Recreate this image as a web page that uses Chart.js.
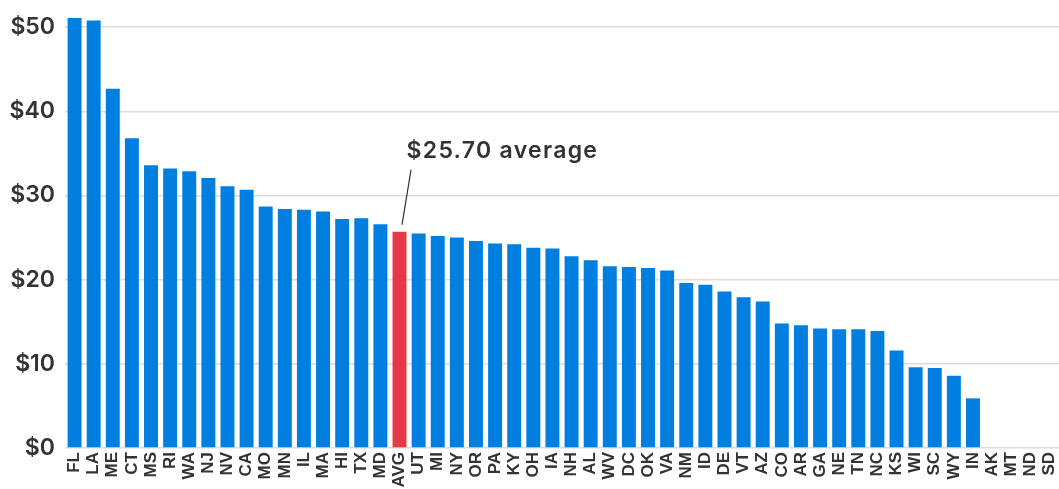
<!DOCTYPE html>
<html>
<head>
<meta charset="utf-8">
<script src="https://cdn.jsdelivr.net/npm/chart.js@4/dist/chart.umd.min.js"></script>
<style>
  html, body { margin: 0; padding: 0; background: #ffffff; }
  #wrap { width: 1059px; height: 489px; position: relative; }
</style>
</head>
<body>
<div id="wrap"><canvas id="c"></canvas></div>
<script>
const states = ["FL","LA","ME","CT","MS","RI","WA","NJ","NV","CA","MO","MN","IL","MA","HI","TX","MD","AVG","UT","MI","NY","OR","PA","KY","OH","IA","NH","AL","WV","DC","OK","VA","NM","ID","DE","VT","AZ","CO","AR","GA","NE","TN","NC","KS","WI","SC","WY","IN","AK","MT","ND","SD"];
const values = [51.1,50.8,42.7,36.8,33.6,33.2,32.9,32.1,31.1,30.7,28.7,28.4,28.3,28.1,27.2,27.3,26.6,25.7,25.5,25.2,25.0,24.6,24.3,24.2,23.8,23.7,22.8,22.3,21.6,21.5,21.4,21.1,19.6,19.4,18.6,17.9,17.4,14.8,14.6,14.2,14.1,14.1,13.9,11.6,9.6,9.5,8.6,5.9,0,0,0,0];
const yTicks = [0,10,20,30,40,50];
const averageLabel = "AVG";
const averageValue = 25.70;
const averageText = "$25.70 average";

const BLUE = "#007FE0";
const RED = "#E63946";

const annotationPlugin = {
  id: "avgNote",
  afterDatasetsDraw(chart) {
    const ctx = chart.ctx;
    const xs = chart.scales.x, ys = chart.scales.y;
    const idx = states.indexOf(averageLabel);
    const x = xs.getPixelForValue(idx);
    const y = ys.getPixelForValue(averageValue);
    ctx.save();
    ctx.strokeStyle = "#2b2b2b";
    ctx.lineWidth = 1.2;
    ctx.beginPath();
    ctx.moveTo(x + 2.5, y - 7);
    ctx.lineTo(x + 11.5, y - 62);
    ctx.stroke();
    ctx.fillStyle = "#333333";
    ctx.font = "600 23px Inter";
    if ("letterSpacing" in ctx) ctx.letterSpacing = "1.3px";
    ctx.textBaseline = "alphabetic";
    ctx.textAlign = "left";
    ctx.fillText(averageText, x + 7, y - 74);
    ctx.restore();
  }
};

new Chart(document.getElementById("c"), {
  type: "bar",
  data: {
    labels: states,
    datasets: [{
      data: values,
      backgroundColor: states.map(s => s === averageLabel ? RED : BLUE),
      borderWidth: 0,
      barPercentage: 0.73,
      categoryPercentage: 1.0
    }]
  },
  options: {
    responsive: true,
    maintainAspectRatio: false,
    animation: false,
    layout: { padding: { top: 2, right: 0, left: 0, bottom: 0 } },
    plugins: { legend: { display: false }, tooltip: { enabled: false } },
    scales: {
      x: {
        grid: { display: false, drawTicks: false },
        border: { display: false },
        ticks: {
          autoSkip: false,
          maxRotation: 90,
          minRotation: 90,
          padding: 4,
          color: "#333333",
          font: { family: "Liberation Sans", size: 17, weight: "bold" }
        },
        afterFit(scale) {
          scale.height = 41;
          scale.paddingLeft = 0; scale.paddingRight = 0;
        }
      },
      y: {
        min: 0,
        max: 53,
        afterBuildTicks(scale) { scale.ticks = yTicks.map(v => ({ value: v })); },
        grid: { color: "#dcdcdc", lineWidth: 1.5, drawTicks: false },
        border: { display: false },
        ticks: {
          padding: 10,
          color: "#333333",
          font: { family: "Inter", size: 23, weight: "600" },
          callback: v => "$" + v
        },
        afterFit(scale) {
          scale.width = 65;
          scale.paddingTop = 0; scale.paddingBottom = 0;
        }
      }
    }
  },
  plugins: [annotationPlugin]
});
</script>
</body>
</html>
